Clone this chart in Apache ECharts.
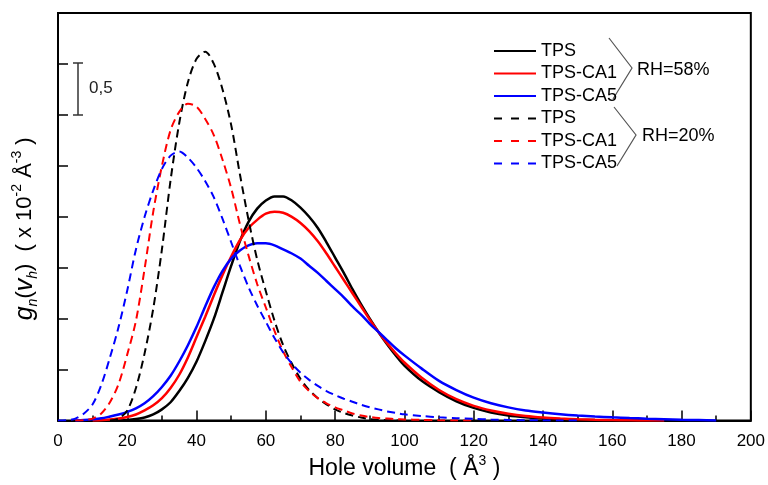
<!DOCTYPE html>
<html>
<head>
	<meta charset="utf-8"/>
	<title>Hole volume distribution</title>
	<script src="https://cdn.jsdelivr.net/npm/echarts@6/dist/echarts.min.js"></script>
</head>
<body style="margin: 0; background: #fff;">

	<div id="chart" style="width: 768px; height: 485px;"></div>

	<script>
		// hole volume (A^3), shared by all curves: every 2.5 up to 100, then every 5
		var xValues = [0, 2.5, 5, 7.5, 10, 12.5, 15, 17.5, 20, 22.5, 25, 27.5, 30, 32.5, 35, 37.5, 40, 42.5, 45, 47.5,
			50, 52.5, 55, 57.5, 60, 62.5, 65, 67.5, 70, 72.5, 75, 77.5, 80, 82.5, 85, 87.5, 90, 92.5, 95, 97.5,
			100, 105, 110, 115, 120, 125, 130, 135, 140, 145, 150, 155, 160, 165, 170, 175, 180, 185, 190];

		// RH = 58 %
		var tps58 = [null, null, null, null, null, null, 0, 0.002, 0.006, 0.015, 0.03, 0.06, 0.11, 0.18, 0.29, 0.42, 0.58, 0.78, 1.00, 1.26,
			1.52, 1.76, 1.95, 2.08, 2.16, 2.20, 2.20, 2.16, 2.09, 2.00, 1.89, 1.75, 1.60, 1.45, 1.29, 1.14, 1.00, 0.87, 0.75, 0.64,
			0.54, 0.39, 0.28, 0.19, 0.125, 0.08, 0.05, 0.032, 0.02, 0.013, 0.008, 0.005, 0.003, 0.001, 0, null, null, null, null];
		var ca1_58 = [null, null, null, null, 0, 0.004, 0.01, 0.02, 0.035, 0.06, 0.10, 0.15, 0.22, 0.32, 0.45, 0.62, 0.82, 1.02, 1.23, 1.43,
			1.61, 1.77, 1.89, 1.97, 2.03, 2.05, 2.04, 2.00, 1.94, 1.86, 1.76, 1.64, 1.51, 1.38, 1.25, 1.12, 0.99, 0.87, 0.76, 0.66,
			0.57, 0.42, 0.30, 0.21, 0.145, 0.10, 0.068, 0.045, 0.03, 0.02, 0.013, 0.008, 0.005, 0.003, 0.001, 0, null, null, null];
		var ca5_58 = [null, null, 0, 0.005, 0.012, 0.022, 0.04, 0.06, 0.085, 0.12, 0.17, 0.24, 0.33, 0.44, 0.58, 0.74, 0.92, 1.12, 1.31, 1.47,
			1.59, 1.67, 1.72, 1.74, 1.74, 1.72, 1.68, 1.64, 1.59, 1.52, 1.45, 1.37, 1.29, 1.21, 1.12, 1.04, 0.95, 0.87, 0.79, 0.71,
			0.64, 0.51, 0.39, 0.30, 0.225, 0.17, 0.13, 0.10, 0.08, 0.063, 0.05, 0.04, 0.032, 0.025, 0.019, 0.014, 0.009, 0.005, 0];

		// RH = 20 %
		var tps20 = [null, null, null, null, null, null, 0, 0.02, 0.10, 0.32, 0.66, 1.10, 1.68, 2.36, 2.92, 3.32, 3.55, 3.62, 3.50, 3.25,
			2.90, 2.42, 1.97, 1.58, 1.27, 0.98, 0.74, 0.56, 0.41, 0.30, 0.22, 0.16, 0.11, 0.075, 0.05, 0.03, 0.015, 0.008, 0.004, 0.001,
			0, null, null, null, null, null, null, null, null, null, null, null, null, null, null, null, null, null, null];
		var ca1_20 = [null, null, 0, 0.005, 0.02, 0.07, 0.18, 0.36, 0.65, 0.98, 1.49, 2.05, 2.50, 2.85, 3.03, 3.11, 3.08, 2.96, 2.80, 2.56,
			2.28, 1.93, 1.62, 1.34, 1.11, 0.88, 0.68, 0.52, 0.38, 0.29, 0.22, 0.17, 0.13, 0.10, 0.07, 0.05, 0.035, 0.025, 0.02, 0.015,
			0.012, 0.007, 0.003, 0.001, 0, null, null, null, null, null, null, null, null, null, null, null, null, null, null];
		var ca5_20 = [0, 0.003, 0.02, 0.07, 0.16, 0.35, 0.62, 0.92, 1.28, 1.68, 2.00, 2.26, 2.47, 2.60, 2.64, 2.58, 2.48, 2.35, 2.19, 1.98,
			1.75, 1.52, 1.31, 1.13, 0.97, 0.81, 0.67, 0.56, 0.47, 0.40, 0.34, 0.29, 0.25, 0.215, 0.185, 0.155, 0.13, 0.11, 0.09, 0.075,
			0.062, 0.045, 0.033, 0.024, 0.017, 0.011, 0.007, 0.004, 0.002, 0.001, 0, null, null, null, null, null, null, null, null];

		var seriesNames = ['TPS|58', 'TPS-CA1|58', 'TPS-CA5|58', 'TPS|20', 'TPS-CA1|20', 'TPS-CA5|20'];
		var seriesData = [tps58, ca1_58, ca5_58, tps20, ca1_20, ca5_20];
		var seriesColors = ['#000000', '#ff0000', '#0000ff', '#000000', '#ff0000', '#0000ff'];

		var font = 'Liberation Sans, Arial, sans-serif';

		function pairs (ys) {
			var res = [];
			for (var i = 0; i < xValues.length; i++) {
				if (ys[i] !== null) {
					res.push([xValues[i], ys[i]]);
				}
			}
			return res;
		}

		var series = [];
		var legendData = [];
		for (var i = 0; i < seriesNames.length; i++) {
			var dashed = i >= 3;
			series.push({
				name: seriesNames[i],
				type: 'line',
				data: pairs(seriesData[i]),
				smooth: 0.3,
				symbol: 'none',
				z: dashed ? 3 : 2,
				lineStyle: {
					color: seriesColors[i],
					width: dashed ? 2 : 2.5,
					type: dashed ? [8, 5] : 'solid'
				},
				itemStyle: { color: seriesColors[i] }
			});
			legendData.push({
				name: seriesNames[i],
				itemStyle: { opacity: 0 },
				lineStyle: { type: dashed ? [8, 9] : 'solid' }
			});
		}

		var option = {
			animation: false,
			grid: {
				left: 58, right: 16, top: 13, bottom: 58,
				show: true, borderColor: '#000', borderWidth: 2
			},
			legend: {
				orient: 'vertical',
				left: 488, top: 37,
				itemWidth: 42, itemHeight: 14, itemGap: 4.5,
				formatter: function (name) { return name.split('|')[0]; },
				textStyle: { fontFamily: font, fontSize: 18, color: '#000', lineHeight: 18 },
				data: legendData
			},
			xAxis: {
				type: 'value',
				min: 0, max: 200, interval: 20,
				name: '{n|Hole volume  ( Å}{sup|3}{n| )}',
				nameLocation: 'middle',
				nameGap: 27,
				nameTextStyle: {
					rich: {
						n: { fontFamily: font, fontSize: 23, color: '#000', lineHeight: 28 },
						sup: { fontFamily: font, fontSize: 14, color: '#000', verticalAlign: 'top', lineHeight: 28 }
					}
				},
				axisLine: { lineStyle: { color: '#000', width: 2 } },
				axisTick: { inside: true, length: 10, lineStyle: { color: '#000', width: 1.5 } },
				minorTick: { show: true, splitNumber: 2, length: 5, lineStyle: { color: '#000', width: 1.5 } },
				axisLabel: { fontFamily: font, fontSize: 17, color: '#000', margin: 12 },
				splitLine: { show: false }
			},
			yAxis: {
				type: 'value',
				min: 0, max: 4, interval: 0.5,
				name: '{i|g}{sub|n}{n|(}{i|v}{sub|h}{n|)  ( x 10}{sup|-2}{n| Å}{sup|-3}{n| )}',
				nameLocation: 'middle',
				nameGap: 18,
				nameTextStyle: {
					padding: [0, 24, 0, 0],
					rich: {
						n: { fontFamily: font, fontSize: 22, color: '#000', lineHeight: 30 },
						i: { fontFamily: font, fontSize: 25, fontStyle: 'italic', color: '#000', lineHeight: 30 },
						sub: { fontFamily: font, fontSize: 14, fontStyle: 'italic', color: '#000', verticalAlign: 'bottom', lineHeight: 30 },
						sup: { fontFamily: font, fontSize: 14, color: '#000', verticalAlign: 'top', lineHeight: 30 }
					}
				},
				axisLine: { lineStyle: { color: '#000', width: 2 } },
				axisTick: { inside: true, length: 10, lineStyle: { color: '#000', width: 1.5 } },
				axisLabel: { show: false },
				splitLine: { show: false }
			},
			graphic: [
				// scale bar
				{ type: 'line', shape: { x1: 78, y1: 63, x2: 78, y2: 115 }, style: { stroke: '#333', lineWidth: 1.5 } },
				{ type: 'line', shape: { x1: 73, y1: 63, x2: 83, y2: 63 }, style: { stroke: '#333', lineWidth: 1.5 } },
				{ type: 'line', shape: { x1: 73, y1: 115, x2: 83, y2: 115 }, style: { stroke: '#333', lineWidth: 1.5 } },
				{ type: 'text', left: 89, top: 80, style: { text: '0,5', fontFamily: font, fontSize: 17, fill: '#222' } },
				// brackets
				{ type: 'polyline', shape: { points: [[609, 38], [632, 68], [613, 99]] }, style: { stroke: '#555', lineWidth: 1.2, fill: null } },
				{ type: 'polyline', shape: { points: [[614, 107], [636, 135], [617, 166]] }, style: { stroke: '#555', lineWidth: 1.2, fill: null } },
				{ type: 'text', left: 637, top: 61, style: { text: 'RH=58%', fontFamily: font, fontSize: 18, fill: '#000' } },
				{ type: 'text', left: 642, top: 127, style: { text: 'RH=20%', fontFamily: font, fontSize: 18, fill: '#000' } }
			],
			series: series
		};

		var myChart = echarts.init(document.getElementById('chart'));
		myChart.setOption(option);
	</script>
</body>
</html>
